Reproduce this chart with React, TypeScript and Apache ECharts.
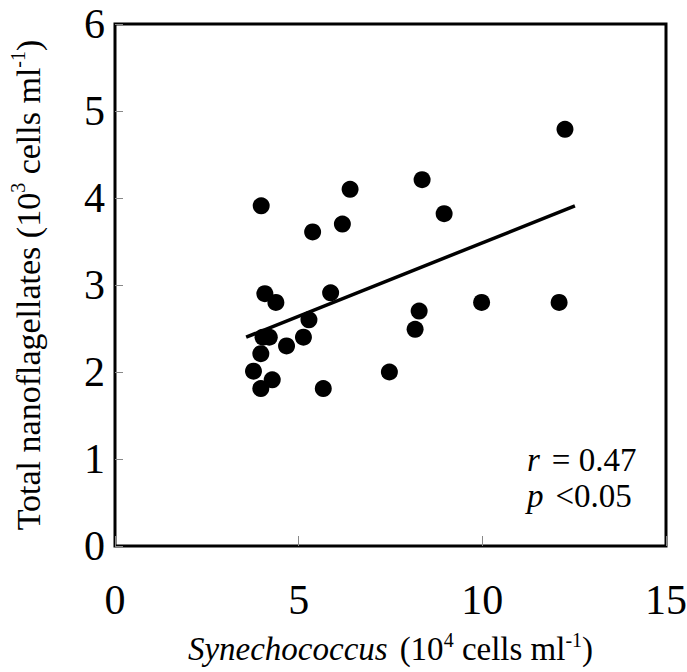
import React, { useEffect, useRef } from "react";
import * as echarts from "echarts";

const synX = [3.98, 6.4, 8.36, 5.38, 6.19, 8.96, 12.25, 4.08, 4.38, 5.87, 5.28, 8.28, 8.17, 4.03, 4.2, 5.13, 4.67, 3.97, 3.77, 4.28, 3.97, 5.67, 7.47, 9.98, 12.09];
const nanoY = [3.91, 4.1, 4.21, 3.61, 3.7, 3.82, 4.79, 2.9, 2.8, 2.91, 2.6, 2.7, 2.49, 2.4, 2.4, 2.4, 2.3, 2.21, 2.01, 1.91, 1.81, 1.81, 2.0, 2.8, 2.8];
const fitX = [3.57, 12.52];
const fitY = [2.4, 3.91];
const xTicks = [0, 5, 10, 15];
const yTicks = [0, 1, 2, 3, 4, 5, 6];
const statR = "0.47";
const statP = "0.05";

const FONT = "'Liberation Serif', 'Times New Roman', serif";

export default function App() {
  const ref = useRef<HTMLDivElement>(null);
  useEffect(() => {
    if (!ref.current) return;
    const chart = echarts.init(ref.current, undefined, { renderer: "svg" });
    const sup = { fontSize: 20, fontFamily: FONT, color: "#000", verticalAlign: "top" as const, lineHeight: 38 };
    chart.setOption({
      animation: false,
      backgroundColor: "#fff",
      textStyle: { fontFamily: FONT, color: "#000" },
      grid: {
        left: 115,
        top: 24,
        width: 551,
        height: 522,
        show: true,
        borderColor: "#000",
        borderWidth: 3,
        backgroundColor: "transparent",
        containLabel: false,
        outerBoundsMode: "none",
      },
      xAxis: {
        type: "value",
        min: xTicks[0],
        max: xTicks[xTicks.length - 1],
        interval: 5,
        axisLine: { show: false },
        axisTick: { show: true, inside: true, length: 10, lineStyle: { color: "#888", width: 1 } },
        splitLine: { show: false },
        axisLabel: { fontSize: 42, fontFamily: FONT, color: "#000", margin: 33, hideOverlap: false },
        name: "{i|Synechococcus}{n|(10}{s|4}{n| cells ml}{s|-1}{n|)}",
        nameLocation: "middle",
        nameGap: 84,
        nameTextStyle: {
          rich: {
            i: { fontSize: 33, fontStyle: "italic", fontFamily: FONT, color: "#000", lineHeight: 38, padding: [0, 12, 0, 0] },
            n: { fontSize: 33, fontFamily: FONT, color: "#000", lineHeight: 38 },
            s: sup,
          },
        },
      },
      yAxis: {
        type: "value",
        min: yTicks[0],
        max: yTicks[yTicks.length - 1],
        interval: 1,
        axisLine: { show: false },
        axisTick: { show: true, inside: true, length: 8, lineStyle: { color: "#888", width: 1 } },
        splitLine: { show: false },
        axisLabel: { fontSize: 42, fontFamily: FONT, color: "#000", margin: 10 },
        name: "{n|Total nanoflagellates (10}{s|3}{n| cells ml}{s|-1}{n|)}",
        nameLocation: "middle",
        nameGap: 67,
        nameRotate: 90,
        nameTextStyle: {
          rich: {
            n: { fontSize: 34, fontFamily: FONT, color: "#000", lineHeight: 40 },
            s: { ...sup, lineHeight: 40 },
          },
        },
      },
      graphic: [
        {
          type: "text",
          left: 527,
          top: 443,
          style: {
            text: "{i|r}{n|= " + statR + "}\n{i|p}{n|<" + statP + "}",
            rich: {
              i: { fontSize: 33, fontStyle: "italic", fontFamily: FONT, fill: "#000", lineHeight: 36, padding: [0, 12, 0, 0] },
              n: { fontSize: 33, fontFamily: FONT, fill: "#000", lineHeight: 36 },
            },
          },
        },
      ],
      series: [
        {
          type: "scatter",
          data: synX.map((x, i) => [x, nanoY[i]]),
          symbol: "circle",
          symbolSize: 17,
          itemStyle: { color: "#000", opacity: 1 },
          z: 3,
        },
        {
          type: "line",
          data: fitX.map((x, i) => [x, fitY[i]]),
          showSymbol: false,
          symbol: "none",
          lineStyle: { color: "#000", width: 3.5 },
          z: 2,
        },
      ],
    });
    return () => chart.dispose();
  }, []);
  return <div ref={ref} style={{ width: 687, height: 672, position: "absolute", left: 0, top: 0 }} />;
}
